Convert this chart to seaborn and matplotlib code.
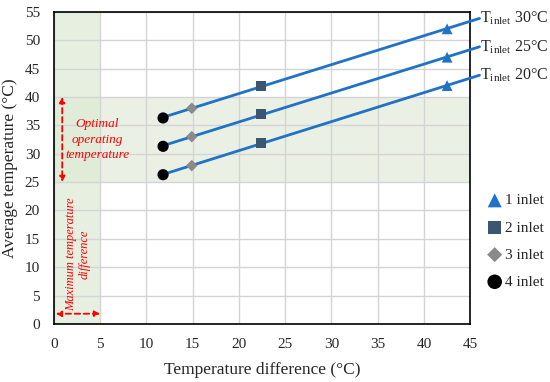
import numpy as np
import pandas as pd
import matplotlib
matplotlib.use("Agg")
import matplotlib.pyplot as plt
import seaborn as sns

# Data
inlet_temps = ["20", "25", "30"]
n_inlets = ["1 inlet", "2 inlet", "3 inlet", "4 inlet"]
temp_diff = [42.5, 22.4, 14.9, 11.8]          # x for 1, 2, 3, 4 inlets
avg_t20 = [42.0, 31.9, 27.9, 26.3]
avg_t25 = [47.0, 37.0, 33.0, 31.3]
avg_t30 = [52.0, 42.0, 38.0, 36.3]

rows = []
for tin, vals in zip(inlet_temps, [avg_t20, avg_t25, avg_t30]):
    for lab, x, y in zip(n_inlets, temp_diff, vals):
        rows.append({"Tinlet": tin, "Inlets": lab, "dT": x, "Tavg": y})
df = pd.DataFrame(rows)

sns.set_theme(style="white")
plt.rcParams["font.family"] = ["Liberation Serif", "DejaVu Serif"]
plt.rcParams["mathtext.fontset"] = "custom"
plt.rcParams["mathtext.rm"] = "Liberation Serif"

fig = plt.figure(figsize=(5.5, 3.82), dpi=100)
ax = fig.add_axes([0.098, 0.152, 0.757, 0.817])

# shaded zones
ax.axvspan(0, 5, color="#dce9d3", alpha=0.7, lw=0, zorder=0)
ax.axhspan(25, 40, color="#dce9d3", alpha=0.6, lw=0, zorder=0)

line_col = "#1f72c6"
for tin in inlet_temps:
    sub = df[df["Tinlet"] == tin]
    k, b = np.polyfit(sub["dT"], sub["Tavg"], 1)
    x_end = 46.0
    xs = np.array([sub["dT"].min(), x_end])
    ax.plot(xs, k * xs + b, color=line_col, lw=2, zorder=3, clip_on=False)
    ax.text(x_end + 0.1, k * x_end + b, r"T$_{\mathregular{inlet}}$ " + tin + "°C",
            ha="left", va="center", fontsize=11.5, clip_on=False)

markers = {"1 inlet": "^", "2 inlet": "s", "3 inlet": "D", "4 inlet": "o"}
palette = {"1 inlet": line_col, "2 inlet": "#3b5670", "3 inlet": "#8a8a8a", "4 inlet": "black"}
sizes = {"1 inlet": 60, "2 inlet": 50, "3 inlet": 35, "4 inlet": 65}
for lab in n_inlets:
    sub = df[df["Inlets"] == lab]
    sns.scatterplot(data=sub, x="dT", y="Tavg", marker=markers[lab], color=palette[lab],
                    s=sizes[lab], edgecolor="none", ax=ax, zorder=4, label=lab)

ax.set_xlim(0, 45)
ax.set_ylim(0, 55)
ax.set_xticks(range(0, 46, 5))
ax.set_yticks(range(0, 56, 5))
ax.grid(True, color="#d4d4d4", lw=1)
ax.set_axisbelow(True)
for sp in ax.spines.values():
    sp.set_color("black")
    sp.set_linewidth(1.2)
ax.tick_params(axis="x", labelsize=11, length=0, pad=10)
ax.tick_params(axis="y", labelsize=11, length=0, pad=10)
ax.set_xlabel("Temperature difference (°C)", fontsize=12.5, labelpad=8)
ax.set_ylabel("Average temperature (°C)", fontsize=12.5, labelpad=5)

leg = ax.legend(loc="center left", bbox_to_anchor=(1.0, 0.265), frameon=False,
                fontsize=11, handletextpad=0.0, labelspacing=0.88, handlelength=1.4,
                markerscale=1.3)

# red annotations
arrow = dict(arrowstyle="<|-|>", color="red", lw=1.3, linestyle=(0, (3, 2)),
             mutation_scale=8, shrinkA=0, shrinkB=0)
ax.annotate("", xy=(0.9, 25), xytext=(0.9, 40), arrowprops=arrow)
ax.annotate("", xy=(0.2, 1.8), xytext=(5, 1.8), arrowprops=arrow)
ax.text(4.7, 32.5, "Optimal\noperating\ntemperature", color="red", style="italic",
        ha="center", va="center", fontsize=9.5, linespacing=1.35)
ax.text(2.6, 12.3, "Maximum temperature\ndifference", color="red", style="italic",
        ha="center", va="center", fontsize=9, rotation=90, linespacing=1.1)

fig.savefig("out.png", dpi=100)
